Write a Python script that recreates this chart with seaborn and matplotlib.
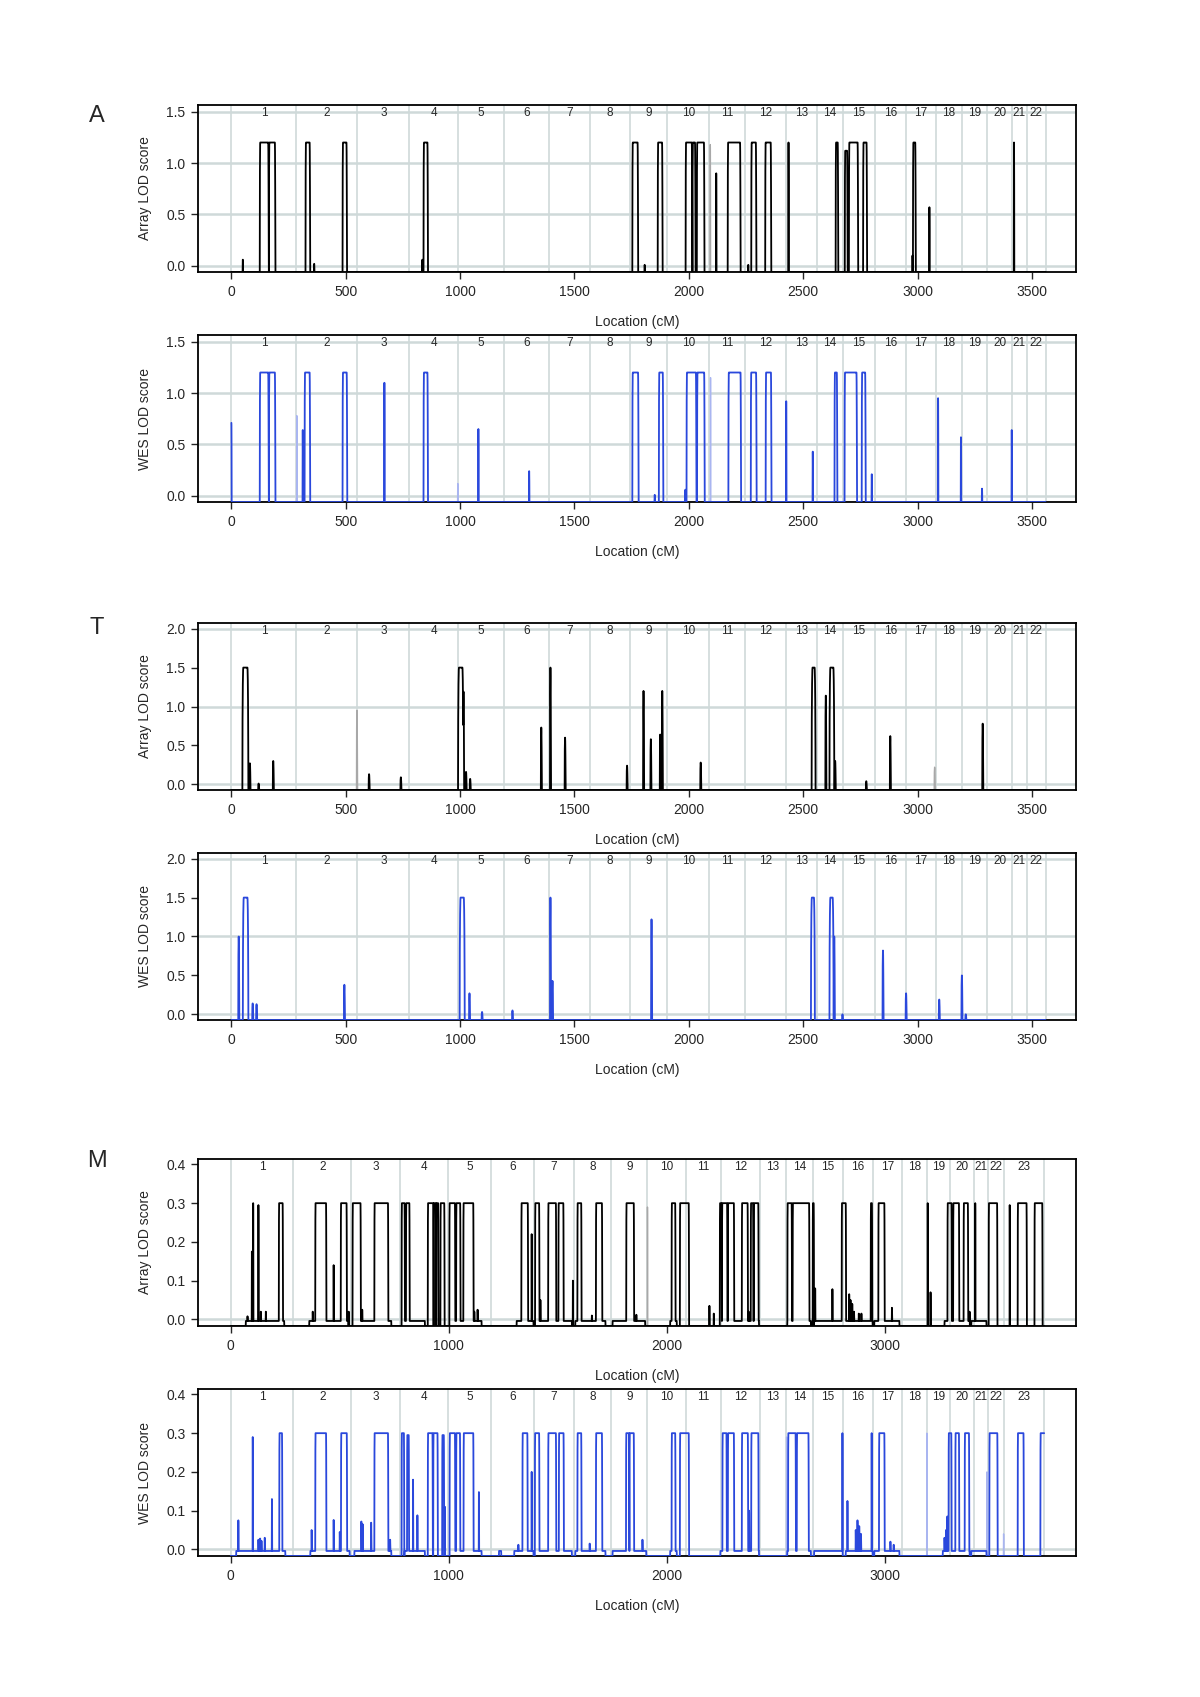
## bibliotecas
import numpy as np
import pandas as pd
import matplotlib
matplotlib.use("Agg")
import matplotlib.pyplot as plt
import seaborn as sns

sns.set_style("white")
plt.rcParams['font.family'] = ['Liberation Sans', 'DejaVu Sans']

## limites dos cromossomos (cM)
edges_22 = [0, 284, 551, 778, 990, 1193, 1387, 1570, 1742, 1906, 2090, 2246, 2425,
            2559, 2675, 2814, 2948, 3080, 3195, 3306, 3412, 3478, 3560]
edges_23 = [0, 286, 553, 778, 998, 1194, 1389, 1576, 1746, 1909, 2086, 2246, 2426,
            2548, 2668, 2807, 2946, 3077, 3195, 3300, 3408, 3472, 3546, 3730]
chrom_22 = [str(i) for i in range(1, 23)]
chrom_23 = [str(i) for i in range(1, 24)]

## picos (inicio, fim, LOD)
a_array_peaks = [
    (50, 50, 0.06), (126, 161, 1.2), (166, 190, 1.2), (326, 342, 1.2), (362, 362, 0.02),
    (488, 503, 1.2), (835, 835, 0.06), (842, 857, 1.2), (1755, 1776, 1.2), (1807, 1807, 0.01),
    (1866, 1883, 1.2), (1988, 2013, 1.2), (2018, 2027, 1.2), (2037, 2066, 1.2),
    (2120, 2120, 0.9), (2172, 2224, 1.2), (2260, 2260, 0.01), (2275, 2293, 1.2),
    (2336, 2358, 1.2), (2436, 2436, 1.2), (2644, 2651, 1.2), (2684, 2692, 1.12),
    (2702, 2738, 1.2), (2764, 2777, 1.2), (2978, 2978, 0.1), (2982, 2990, 1.2),
    (3052, 3052, 0.57), (3422, 3422, 1.2),
]
a_array_faint = [(2094, 2094, 1.18)]

a_wes_peaks = [
    (0, 0, 0.71), (126, 161, 1.2), (166, 190, 1.2), (312, 312, 0.64), (322, 342, 1.2),
    (488, 504, 1.2), (669, 669, 1.1), (842, 857, 1.2), (1080, 1080, 0.65), (1302, 1302, 0.24),
    (1755, 1778, 1.2), (1851, 1851, 0.01), (1871, 1886, 1.2), (1985, 1985, 0.06),
    (1992, 2031, 1.2), (2038, 2067, 1.2), (2175, 2226, 1.2), (2273, 2294, 1.2),
    (2338, 2359, 1.2), (2426, 2426, 0.92), (2542, 2542, 0.43), (2639, 2647, 1.2),
    (2683, 2733, 1.2), (2758, 2771, 1.2), (2800, 2800, 0.21), (3090, 3090, 0.95),
    (3190, 3190, 0.57), (3282, 3282, 0.07), (3412, 3412, 0.64),
]
a_wes_faint = [(286, 286, 0.78), (990, 990, 0.12), (2095, 2095, 1.15)]

t_array_peaks = [
    (52, 70, 1.5), (81, 81, 0.27), (119, 119, 0.01), (183, 183, 0.3), (602, 602, 0.13),
    (741, 741, 0.09), (995, 1010, 1.5), (1015, 1015, 1.19), (1026, 1026, 0.16),
    (1044, 1044, 0.07), (1355, 1355, 0.73), (1395, 1395, 1.5), (1459, 1459, 0.6),
    (1730, 1730, 0.24), (1802, 1802, 1.2), (1834, 1834, 0.58), (1875, 1875, 0.64),
    (1884, 1884, 1.2), (2052, 2052, 0.28), (2541, 2550, 1.5), (2599, 2599, 1.14),
    (2619, 2632, 1.5), (2640, 2640, 0.3), (2776, 2776, 0.04), (2881, 2881, 0.62),
    (3285, 3285, 0.78),
]
t_array_faint = [(549, 549, 0.95), (3075, 3075, 0.22)]

t_wes_peaks = [
    (32, 32, 1.0), (54, 70, 1.5), (93, 93, 0.14), (110, 110, 0.13), (494, 494, 0.38),
    (1002, 1016, 1.5), (1041, 1041, 0.27), (1096, 1096, 0.03), (1229, 1229, 0.05),
    (1395, 1395, 1.5), (1404, 1404, 0.43), (1837, 1837, 1.22), (2538, 2547, 1.5),
    (2619, 2629, 1.5), (2636, 2636, 1.0), (2672, 2672, 0.0), (2849, 2849, 0.82),
    (2950, 2950, 0.27), (3095, 3095, 0.19), (3194, 3194, 0.5), (3211, 3211, 0.0),
]
t_wes_faint = []

m_array_peaks = [
    (77, 77, 0.008), (97, 97, 0.175), (103, 103, 0.3), (127, 127, 0.295), (138, 138, 0.02),
    (161, 161, 0.02), (222, 238, 0.3), (376, 376, 0.02), (389, 437, 0.3), (472, 472, 0.14),
    (506, 531, 0.3), (541, 541, 0.02), (560, 595, 0.3), (603, 603, 0.025), (660, 721, 0.3),
    (785, 797, 0.3), (805, 819, 0.3), (905, 928, 0.3), (932, 940, 0.3), (944, 951, 0.3),
    (963, 979, 0.3), (1004, 1028, 0.3), (1035, 1052, 0.3), (1068, 1112, 0.3),
    (1117, 1117, 0.02), (1132, 1132, 0.025), (1334, 1362, 0.3), (1380, 1380, 0.22),
    (1397, 1414, 0.3), (1420, 1420, 0.05), (1457, 1491, 0.3), (1504, 1525, 0.3),
    (1569, 1569, 0.1), (1591, 1607, 0.3), (1656, 1656, 0.01), (1676, 1702, 0.3),
    (1815, 1848, 0.3), (1860, 1860, 0.012), (2023, 2038, 0.3), (2061, 2100, 0.3),
    (2195, 2195, 0.035), (2215, 2215, 0.015), (2244, 2250, 0.3), (2254, 2276, 0.3),
    (2281, 2307, 0.3), (2345, 2370, 0.3), (2375, 2375, 0.02), (2386, 2395, 0.3),
    (2400, 2419, 0.3), (2554, 2572, 0.3), (2578, 2652, 0.3), (2670, 2673, 0.3),
    (2680, 2680, 0.08), (2759, 2759, 0.078), (2803, 2820, 0.3), (2836, 2836, 0.065),
    (2842, 2842, 0.05), (2850, 2850, 0.04), (2858, 2858, 0.02), (2880, 2880, 0.015),
    (2892, 2892, 0.015), (2936, 2940, 0.3), (2971, 2997, 0.3), (3032, 3032, 0.03),
    (3196, 3196, 0.3), (3209, 3209, 0.07), (3288, 3305, 0.3), (3314, 3339, 0.3),
    (3362, 3380, 0.3), (3388, 3388, 0.02), (3414, 3414, 0.3), (3477, 3514, 0.3),
    (3572, 3572, 0.295), (3610, 3649, 0.3), (3687, 3721, 0.3),
]
m_array_faint = [(1911, 1911, 0.29)]
m_array_flat = [(69, 245), (360, 540), (567, 736), (797, 890), (1012, 1150), (1311, 1388),
                (1396, 1564), (1580, 1718), (1751, 1900), (2015, 2045), (2245, 2422),
                (2552, 2660), (2675, 2805), (2820, 2943), (2951, 3066), (3273, 3388),
                (3396, 3465)]

m_wes_peaks = [
    (35, 35, 0.075), (101, 101, 0.29), (127, 127, 0.025), (135, 135, 0.028),
    (141, 141, 0.022), (156, 156, 0.03), (189, 189, 0.13), (224, 235, 0.3),
    (371, 371, 0.05), (389, 437, 0.3), (472, 472, 0.076), (500, 500, 0.045),
    (507, 532, 0.3), (599, 599, 0.072), (605, 605, 0.065), (644, 644, 0.069),
    (660, 721, 0.3), (731, 731, 0.025), (785, 794, 0.3), (810, 816, 0.295),
    (836, 836, 0.18), (856, 856, 0.088), (905, 925, 0.3), (930, 948, 0.3),
    (971, 977, 0.295), (982, 982, 0.11), (1005, 1028, 0.3), (1035, 1051, 0.3),
    (1069, 1112, 0.3), (1138, 1138, 0.148), (1319, 1319, 0.012), (1339, 1360, 0.3),
    (1380, 1380, 0.2), (1396, 1414, 0.3), (1457, 1491, 0.3), (1506, 1526, 0.3),
    (1591, 1607, 0.3), (1646, 1646, 0.015), (1676, 1702, 0.3), (1814, 1826, 0.3),
    (1830, 1848, 0.3), (1888, 1888, 0.025), (2023, 2038, 0.3), (2061, 2100, 0.3),
    (2256, 2273, 0.3), (2281, 2307, 0.3), (2345, 2371, 0.3), (2377, 2377, 0.1),
    (2388, 2419, 0.3), (2557, 2590, 0.3), (2597, 2649, 0.3), (2805, 2805, 0.3),
    (2828, 2828, 0.125), (2866, 2866, 0.05), (2874, 2874, 0.075), (2882, 2882, 0.06),
    (2890, 2890, 0.04), (2939, 2939, 0.3), (2974, 2997, 0.3), (3025, 3025, 0.02),
    (3040, 3040, 0.012), (3273, 3273, 0.03), (3280, 3280, 0.05), (3286, 3286, 0.085),
    (3293, 3304, 0.3), (3324, 3339, 0.3), (3367, 3385, 0.3), (3480, 3515, 0.3),
    (3610, 3635, 0.3), (3714, 3730, 0.3),
]
m_wes_faint = [(2549, 2549, 0.29), (3192, 3192, 0.3), (3468, 3468, 0.2), (3544, 3544, 0.04)]
m_wes_flat = [(25, 250), (365, 545), (567, 736), (797, 890), (1012, 1150), (1230, 1240),
              (1300, 1388), (1396, 1564), (1580, 1718), (1751, 1905), (2015, 2045),
              (2245, 2422), (2552, 2660), (2675, 2805), (2820, 2943), (2951, 3066),
              (3265, 3388), (3396, 3465)]

cor_preto = 'black'
cor_azul = '#2a48dc'
cor_grade = '#cfd9d9'


def curva_lod(peaks, flats, x_end, base, w):
    ## monta a curva LOD a partir dos picos lidos
    x = np.arange(0, x_end + 0.25, 0.25)
    y = np.full(x.shape, base)
    for a, b in flats:
        y[(x >= a) & (x <= b)] = -0.004
    for s, e, h in peaks:
        ww = w if e > s else w / 2
        prof = np.full(x.shape, -np.inf)
        prof[(x >= s) & (x <= e)] = h
        m = (x >= s - ww) & (x < s)
        t = (s - x[m]) / ww
        prof[m] = base + (h - base) * np.sqrt(1 - t ** 2)
        m = (x > e) & (x <= e + ww)
        t = (x[m] - e) / ww
        prof[m] = base + (h - base) * np.sqrt(1 - t ** 2)
        y = np.maximum(y, prof)
    return pd.DataFrame({'loc': x, 'lod': y})


def painel(ax, peaks, faint, flats, edges, labels, cor, cor_fraca, ylim, yticks,
           hlines, xlim, xticks, ylabel, w):
    for v in hlines:
        ax.axhline(v, color=cor_grade, lw=1.8, zorder=1)
    for v in edges:
        ax.axvline(v, color=cor_grade, lw=1.2, zorder=1)
    if faint:
        df_f = curva_lod(faint, [], edges[-1], ylim[0], w)
        sns.lineplot(data=df_f, x='loc', y='lod', ax=ax, color=cor_fraca, lw=1.0,
                     estimator=None, sort=False, zorder=2)
    df = curva_lod(peaks, flats, edges[-1], ylim[0], w)
    sns.lineplot(data=df, x='loc', y='lod', ax=ax, color=cor, lw=1.3,
                 estimator=None, sort=False, zorder=3)
    meios = [(edges[i] + edges[i + 1]) / 2 for i in range(len(labels))]
    for m, lab in zip(meios, labels):
        ax.text(m, 0.952, lab, transform=ax.get_xaxis_transform(), ha='center',
                va='center', fontsize=8.5, zorder=4)
    ax.set_xlim(xlim)
    ax.set_ylim(ylim)
    ax.set_xticks(xticks)
    ax.set_yticks(yticks)
    ax.set_yticklabels(['%.1f' % v for v in yticks])
    ax.tick_params(direction='out', length=5, width=1, labelsize=10, pad=4,
                   left=True, bottom=True)
    for sp in ax.spines.values():
        sp.set_color('black')
        sp.set_linewidth(1.3)
    ax.set_xlabel('Location (cM)', fontsize=10, labelpad=12)
    ax.set_ylabel(ylabel, fontsize=10, labelpad=10)


fig = plt.figure(figsize=(12, 16.97), dpi=100)
topos = [105, 335, 623, 853, 1159, 1389]
alt = 167
eixos = []
for tp in topos:
    eixos.append(fig.add_axes([198 / 1200, 1 - (tp + alt) / 1697, 878 / 1200, alt / 1697]))

xt_at = [0, 500, 1000, 1500, 2000, 2500, 3000, 3500]
xt_m = [0, 1000, 2000, 3000]

painel(eixos[0], a_array_peaks, a_array_faint, [], edges_22, chrom_22, cor_preto, '#a8a8a8',
       (-0.06, 1.565), [0.0, 0.5, 1.0, 1.5], [0.0, 0.5, 1.0, 1.5], (-146, 3693), xt_at,
       'Array LOD score', 2)
painel(eixos[1], a_wes_peaks, a_wes_faint, [], edges_22, chrom_22, cor_azul, '#a9b5f0',
       (-0.06, 1.565), [0.0, 0.5, 1.0, 1.5], [0.0, 0.5, 1.0, 1.5], (-146, 3693), xt_at,
       'WES LOD score', 2)
painel(eixos[2], t_array_peaks, t_array_faint, [], edges_22, chrom_22, cor_preto, '#a8a8a8',
       (-0.073, 2.073), [0.0, 0.5, 1.0, 1.5, 2.0], [0.0, 1.0, 2.0], (-146, 3693), xt_at,
       'Array LOD score', 4)
painel(eixos[3], t_wes_peaks, t_wes_faint, [], edges_22, chrom_22, cor_azul, '#a9b5f0',
       (-0.073, 2.073), [0.0, 0.5, 1.0, 1.5, 2.0], [0.0, 1.0, 2.0], (-146, 3693), xt_at,
       'WES LOD score', 4)
painel(eixos[4], m_array_peaks, m_array_faint, m_array_flat, edges_23, chrom_23, cor_preto,
       '#a8a8a8', (-0.017, 0.414), [0.0, 0.1, 0.2, 0.3, 0.4], [0.0], (-150, 3876), xt_m,
       'Array LOD score', 1.5)
painel(eixos[5], m_wes_peaks, m_wes_faint, m_wes_flat, edges_23, chrom_23, cor_azul,
       '#a9b5f0', (-0.017, 0.414), [0.0, 0.1, 0.2, 0.3, 0.4], [0.0], (-150, 3876), xt_m,
       'WES LOD score', 1.5)

## letras dos paineis
for letra, yy in [('A', 116), ('T', 628), ('M', 1161)]:
    fig.text(97 / 1200, 1 - yy / 1697, letra, fontsize=17, ha='center', va='center')

plt.savefig('out.png', dpi=100)
plt.close()
